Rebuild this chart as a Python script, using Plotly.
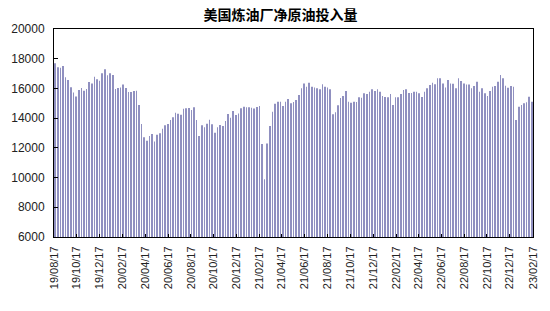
import pandas as pd
import plotly.graph_objects as go

# Weekly refinery net crude input (kb/d)
start_date = "2019-08-20"
values = [
    17690, 17420, 17400, 17510, 16750, 16570, 16080, 15720, 15450, 15900,
    16030, 15850, 15960, 16430, 16340, 16790, 16610, 16520, 17020, 17290,
    16880, 17020, 16900, 15960, 16030, 16070, 16270, 16030, 15760, 15760,
    15830, 15850, 14880, 13610, 12710, 12480, 12800, 12930, 12420, 12890,
    12980, 13290, 13520, 13610, 13880, 14060, 14370, 14300, 14230, 14640,
    14660, 14680, 14550, 14730, 13880, 12800,
    13520, 13380, 13630, 13900, 13590, 13020, 13380, 13540, 13470, 13810,
    14280, 14030, 14480, 14210, 14320, 14660, 14770, 14730, 14730, 14700,
    14650, 14750, 14820, 12260, 9880, 12300, 13470, 14430, 14970, 15110,
    15100, 14820, 15100, 15290, 15000, 15080, 15220, 15560, 16010, 16340,
    16110, 16380, 16110, 16070, 16010, 15940, 16280, 16110, 16070, 15940,
    14260, 14390, 14860, 15360, 15490, 15830, 15110, 15040, 15110, 15080,
    15400, 15380, 15670, 15630, 15780, 15940, 15830,
    15940, 15780, 15490, 15430, 15400, 15630, 14880, 15400, 15400, 15630,
    15900, 15940, 15700, 15700, 15780, 15780, 15670, 15430, 15780, 16010,
    16230, 16380, 16280, 16680, 16680, 16340, 16070, 16570, 16340, 16310,
    16010,
    16680, 16500, 16340, 16270, 16270, 16010, 16160, 16450, 15780, 16010,
    15670, 15490, 15830, 16110, 16160, 16450, 16900, 16680, 16180, 16050,
    16160, 16110, 13880, 14770, 14880, 15000, 15070, 15440, 15110,
]
dates = pd.date_range(start_date, periods=len(values), freq="7D")

tick_labels = [
    "19/08/17", "19/10/17", "19/12/17", "20/02/17", "20/04/17", "20/06/17",
    "20/08/17", "20/10/17", "20/12/17", "21/02/17", "21/04/17", "21/06/17",
    "21/08/17", "21/10/17", "21/12/17", "22/02/17", "22/04/17", "22/06/17",
    "22/08/17", "22/10/17", "22/12/17", "23/02/17",
]
tick_dates = [pd.to_datetime("20" + t, format="%Y/%m/%d") for t in tick_labels]

title = "美国炼油厂净原油投入量"
y_ticks = [6000, 8000, 10000, 12000, 14000, 16000, 18000, 20000]

fig = go.Figure(
    go.Bar(
        x=dates,
        y=values,
        width=1.7 * 86400000,
        marker=dict(color="#9090c0", line=dict(width=0)),
    )
)

fig.update_layout(
    width=550,
    height=311,
    margin=dict(l=52, r=11, t=29, b=74),
    paper_bgcolor="white",
    plot_bgcolor="white",
    showlegend=False,
    title=dict(
        text="<b>" + title + "</b>",
        x=0.51,
        xanchor="center",
        y=0.952,
        yanchor="middle",
        font=dict(family="Noto Sans CJK SC", size=14, color="#000000"),
    ),
    font=dict(family="Liberation Sans", color="#222222"),
)

fig.update_xaxes(
    type="date",
    range=["2019-08-17", "2023-02-17"],
    tickvals=tick_dates,
    ticktext=tick_labels,
    tickangle=-90,
    ticks="inside",
    ticklen=3,
    tickcolor="#000000",
    tickfont=dict(size=11, family="Liberation Sans", color="#222222"),
    showline=True,
    linecolor="#000000",
    linewidth=1,
    mirror=True,
    showgrid=False,
    zeroline=False,
    ticklabelstandoff=4,
)

fig.update_yaxes(
    range=[6000, 20000],
    tickvals=y_ticks,
    ticktext=[str(v) for v in y_ticks],
    ticks="inside",
    ticklen=4,
    tickcolor="#000000",
    tickfont=dict(size=12, family="Liberation Sans", color="#222222"),
    showline=True,
    linecolor="#000000",
    linewidth=1,
    mirror=True,
    showgrid=False,
    zeroline=False,
    ticklabelstandoff=6,
)

fig.write_html("out.html")
